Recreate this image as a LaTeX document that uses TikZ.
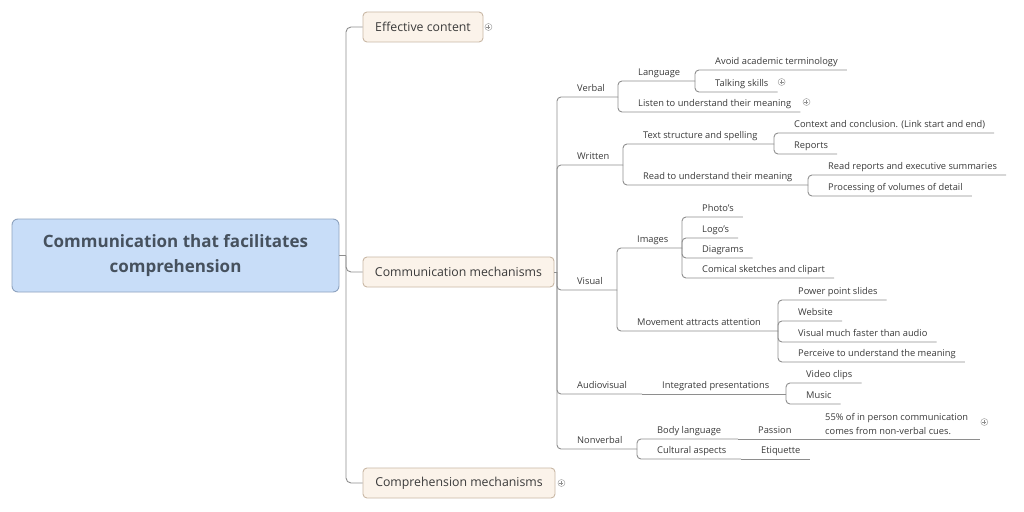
\documentclass[tikz,border=0pt]{standalone}
\usepackage{fontspec}
\setmainfont{Open Sans}
\usetikzlibrary{calc}
\definecolor{lncol}{HTML}{8E8E8E}
\definecolor{txcol}{HTML}{3A3A3A}
\definecolor{rootfill}{HTML}{C8DDF8}
\definecolor{rootdraw}{HTML}{8DA2BF}
\definecolor{roottext}{HTML}{46515E}
\definecolor{boxfill}{HTML}{FBF3EA}
\definecolor{boxdraw}{HTML}{C9B8A5}
\tikzset{
  ln/.style={draw=lncol, line width=0.9pt},
  tx/.style={inner sep=0pt, text=txcol, font=\fontsize{9.3}{14}\selectfont},
  box/.style={draw=boxdraw, fill=boxfill, rounded corners=4pt, line width=0.9pt,
    text=txcol, font=\fontsize{12.3}{15}\selectfont, minimum height=30pt, inner sep=0pt},
  rootbox/.style={draw=rootdraw, fill=rootfill, rounded corners=6pt, line width=0.9pt,
    text=roottext, font=\fontsize{17}{25}\selectfont\bfseries, align=center,
    minimum width=327pt, minimum height=73pt, inner sep=0pt},
  plus/.style={circle, draw=lncol!80, line width=0.5pt, minimum size=7pt, inner sep=0pt,
    path picture={\draw[lncol, line width=0.5pt]
      ([xshift=-2pt]path picture bounding box.center) -- ([xshift=2pt]path picture bounding box.center)
      ([yshift=-2pt]path picture bounding box.center) -- ([yshift=2pt]path picture bounding box.center);}}
}
% leaf topic: [connector op] name, parent, x0, underline y, text
\newcommand\leaf[6][|-]{%
  \coordinate (#2-s) at (#4,#5);
  \node[tx, anchor=base west] (#2) at (#4+20,#5-6) {#6};
  \coordinate (#2-e) at ($(#2.east |- #2-s)+(9,0)$);
  \draw[ln, rounded corners=4pt] (#3-e) #1 (#2-e);}
% inner topic: [connector op] name, parent, x0, underline y, branch x, text
\newcommand\topicN[7][|-]{%
  \node[tx, anchor=base west] (#2) at (#4+20,#5-6) {#7};
  \coordinate (#2-e) at (#6,#5);
  \draw[ln, rounded corners=4pt] (#3-e) #1 (#2-e);}
\begin{document}
\begin{tikzpicture}[x=1pt, y=-1pt]
\useasboundingbox (0,0) rectangle (1024,511);
\fill[white] (0,0) rectangle (1024,511);

\node[rootbox] (root) at (175.5,255.5) {Communication that facilitates\\comprehension};
\node[box, minimum width=120pt] (ec) at (423,27) {Effective content};
\node[box, minimum width=191pt] (cm) at (458.5,272) {Communication mechanisms};
\node[box, minimum width=192pt] (cp) at (459,483) {Comprehension mechanisms};

\coordinate (rj) at (346,255.5);
\draw[ln] (root.east) -- (rj);
\draw[ln, rounded corners=5pt] (rj) |- (ec.west);
\draw[ln, rounded corners=5pt] (rj) |- (cm.west);
\draw[ln, rounded corners=5pt] (rj) |- (cp.west);

\node[plus] (pl-ec) at ($(ec.east)+(5,0)$) {};
\node[plus] (pl-cp) at ($(cp.east)+(6,0)$) {};

\coordinate (cm-e) at (557,272);
\draw[ln] (cm.east) -- (cm-e);

\topicN{verbal}{cm}{557}{97}{618}{Verbal}
\topicN{lang}{verbal}{618}{81}{695}{Language}
\leaf{avoid}{lang}{695}{70}{Avoid academic terminology}
\leaf{talk}{lang}{695}{92}{Talking skills}
\leaf{listen}{verbal}{618}{112}{Listen to understand their meaning}
\node[plus] (pl-talk) at ($(talk-e)+(4,-10)$) {};
\node[plus] (pl-listen) at ($(listen-e)+(6,-10)$) {};

\topicN{written}{cm}{557}{165}{623}{Written}
\topicN{tss}{written}{623}{144}{774}{Text structure and spelling}
\leaf{ctx}{tss}{774}{133}{Context and conclusion. (Link start and end)}
\leaf{rep}{tss}{774}{154}{Reports}
\topicN{rtu}{written}{623}{185}{808}{Read to understand their meaning}
\leaf{rres}{rtu}{808}{175}{Read reports and executive summaries}
\leaf{proc}{rtu}{808}{196}{Processing of volumes of detail}

\topicN{visual}{cm}{557}{290}{617}{Visual}
\topicN{img}{visual}{617}{248}{682}{Images}
\leaf{photo}{img}{682}{217}{Photo's}
\leaf{logo}{img}{682}{238}{Logo's}
\leaf{diag}{img}{682}{258}{Diagrams}
\leaf{comic}{img}{682}{278}{Comical sketches and clipart}
\topicN{move}{visual}{617}{331}{778}{Movement attracts attention}
\leaf{pps}{move}{778}{300}{Power point slides}
\leaf{web}{move}{778}{321}{Website}
\leaf{vmf}{move}{778}{342}{Visual much faster than audio}
\leaf{perc}{move}{778}{362}{Perceive to understand the meaning}

\topicN{av}{cm}{557}{394}{642}{Audiovisual}
\topicN[--]{intp}{av}{642}{394}{786}{Integrated presentations}
\leaf{video}{intp}{786}{383}{Video clips}
\leaf{music}{intp}{786}{404}{Music}

\topicN{nonv}{cm}{557}{449}{637}{Nonverbal}
\topicN{body}{nonv}{637}{439}{738}{Body language}
\topicN[--]{passion}{body}{738}{439}{805}{Passion}
\node[tx, anchor=south west, align=left] (cues) at (825,435) {55\% of in person communication\\comes from non-verbal cues.};
\coordinate (cues-e) at ($(cues.east |- passion-e)+(12,0)$);
\draw[ln] (passion-e) -- (cues-e);
\node[plus] (pl-cues) at ($(cues-e)+(4,-17)$) {};
\topicN{cult}{nonv}{637}{459}{741}{Cultural aspects}
\leaf[--]{etiq}{cult}{741}{459}{Etiquette}
\end{tikzpicture}
\end{document}
